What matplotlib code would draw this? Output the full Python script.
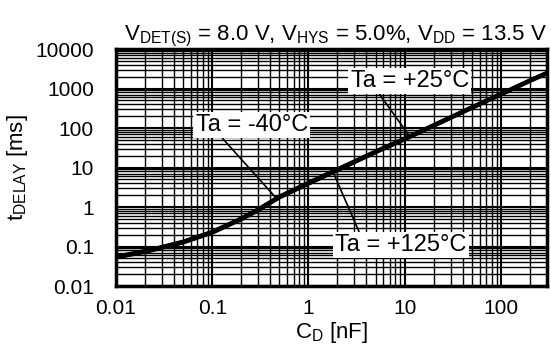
import numpy as np
import matplotlib.pyplot as plt
from matplotlib.ticker import LogLocator, NullFormatter

plt.rcParams['font.family'] = ['Liberation Sans', 'DejaVu Sans']
plt.rcParams['mathtext.fontset'] = 'custom'
plt.rcParams['mathtext.rm'] = 'Liberation Sans'

# capacitance C_D [nF] and delay time t_DELAY [ms]
cd_nf = [0.01, 0.02, 0.03, 0.05, 0.1, 0.2, 0.3, 0.5, 1, 2, 5, 10, 20, 50, 100, 200, 300]
t_25 = [0.054, 0.075, 0.095, 0.13, 0.23, 0.5, 0.85, 1.8, 4.0, 8.8, 25, 53, 116, 330, 720, 1580, 2450]
t_m40 = [0.053, 0.073, 0.093, 0.127, 0.225, 0.49, 0.83, 1.76, 3.9, 8.6, 24.5, 52, 114, 325, 710, 1560, 2420]
t_125 = [0.055, 0.077, 0.097, 0.133, 0.235, 0.51, 0.87, 1.84, 4.1, 9.0, 25.5, 54, 118, 335, 730, 1600, 2480]

x_ticks = [0.01, 0.1, 1, 10, 100]
x_tick_labels = ['0.01', '0.1', '1', '10', '100']
y_ticks = [0.01, 0.1, 1, 10, 100, 1000, 10000]
y_tick_labels = ['0.01', '0.1', '1', '10', '100', '1000', '10000']

# (label, series, C where leader meets curve, text position, leader start on box)
notes = [
    ('Ta = -40°C', t_m40, 0.47, (0.258, 119), (0.22, 0.0)),
    ('Ta = +25°C', t_25, 11.3, (11.3, 1550), (0.23, 0.0)),
    ('Ta = +125°C', t_125, 1.79, (9.1, 0.109), (0.19, 1.0)),
]

fig = plt.figure(figsize=(5.51, 3.62), dpi=100)
ax = fig.add_axes([0.2105, 0.2099, 0.782, 0.6547])

for t in (t_m40, t_25, t_125):
    ax.plot(cd_nf, t, color='black', lw=3.0, zorder=3)

ax.set_xscale('log')
ax.set_yscale('log')
ax.set_xlim(0.01, 300)
ax.set_ylim(0.01, 10000)
ax.set_xticks(x_ticks)
ax.set_xticklabels(x_tick_labels)
ax.set_yticks(y_ticks)
ax.set_yticklabels(y_tick_labels)
for axis in (ax.xaxis, ax.yaxis):
    axis.set_minor_locator(LogLocator(base=10, subs=np.arange(2, 10), numticks=100))
    axis.set_minor_formatter(NullFormatter())
ax.grid(True, which='major', color='black', lw=1.5)
ax.grid(True, which='minor', color='black', lw=1.0)
ax.tick_params(which='both', length=0, labelsize=15)
ax.tick_params(axis='y', pad=16)
ax.tick_params(axis='x', pad=9)
for s in ax.spines.values():
    s.set_linewidth(2.5)

for label, series, c, pos, rel in notes:
    y = 10 ** np.interp(np.log10(c), np.log10(cd_nf), np.log10(series))
    ax.annotate(label, xy=(c, y), xytext=pos, ha='center', va='center',
                fontsize=17, zorder=4,
                bbox=dict(boxstyle='square,pad=0.1', fc='white', ec='none'),
                arrowprops=dict(arrowstyle='-', color='black', lw=1.2,
                                relpos=rel, shrinkA=0, shrinkB=0))

ax.set_title(r'$\mathregular{V_{DET(S)}}$ = 8.0 V, $\mathregular{V_{HYS}}$ = 5.0%, '
             r'$\mathregular{V_{DD}}$ = 13.5 V', loc='right', fontsize=16, pad=6)
ax.set_xlabel(r'$\mathregular{C_D}$ [nF]', fontsize=16, labelpad=2)
ax.set_ylabel(r'$\mathregular{t_{DELAY}}$ [ms]', fontsize=16, labelpad=4)

fig.savefig('out.png')
